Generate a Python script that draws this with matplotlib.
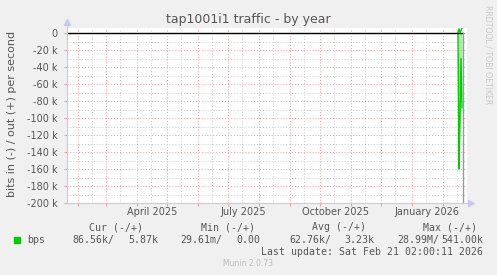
import datetime as dt
import matplotlib
matplotlib.use("Agg")
import matplotlib.pyplot as plt
import matplotlib.dates as mdates
from matplotlib.ticker import MultipleLocator, FuncFormatter

# time range shown (400 days, as in munin "by year")
x_start = dt.datetime(2025, 1, 21)
x_end = dt.datetime(2026, 2, 25)
now = dt.datetime(2026, 2, 21, 2, 0, 11)

# the only non-zero days of traffic
days = [dt.datetime(2026, 2, 16), dt.datetime(2026, 2, 17), dt.datetime(2026, 2, 18),
        dt.datetime(2026, 2, 19), dt.datetime(2026, 2, 20)]
bits_in = [0, 160000, 100000, 30000, 88000]
bits_out = [0, 5000, 800, 3000, 5870]

label_months = [dt.datetime(2025, 4, 16), dt.datetime(2025, 7, 16),
                dt.datetime(2025, 10, 16), dt.datetime(2026, 1, 16)]

legend_head = ["Cur (-/+)", "Min (-/+)", "Avg (-/+)", "Max (-/+)"]
legend_in = ["86.56k/", "29.61m/", "62.76k/", "28.99M/"]
legend_out = ["5.87k", "0.00", "3.23k", "541.00k"]

W, H = 497, 275
fig = plt.figure(figsize=(W / 100, H / 100), dpi=100, facecolor="#f0f0f0")


def px(x, y):
    return x / W, 1 - y / H


ax = fig.add_axes([67 / W, 1 - 203 / H, 400 / W, 175 / H])
ax.set_facecolor("white")
ax.set_xlim(x_start, x_end)
ax.set_ylim(-200000, 6000)

# grid
red = (1.0, 0.6, 0.6)
grey = (0.8, 0.8, 0.8)
ax.yaxis.set_major_locator(MultipleLocator(20000))
ax.yaxis.set_minor_locator(MultipleLocator(10000))
ax.xaxis.set_major_locator(mdates.MonthLocator(bymonthday=1))
ax.xaxis.set_minor_locator(mdates.MonthLocator(bymonthday=15))
ax.grid(which="minor", color=grey, linestyle=(0, (1, 2)), linewidth=0.7)
ax.grid(which="major", color=red, linestyle=(0, (1, 2)), linewidth=0.7)
ax.set_axisbelow(True)


def kfmt(v, pos):
    if v == 0:
        return "0"
    return "%d k" % round(v / 1000)


ax.yaxis.set_major_formatter(FuncFormatter(kfmt))
ax.xaxis.set_major_formatter(FuncFormatter(lambda v, p: ""))
ax.tick_params(axis="y", which="major", labelsize=7, labelcolor="#555555",
               length=2, color=red, pad=5)
ax.tick_params(axis="y", which="minor", length=0)
ax.tick_params(axis="x", which="major", length=2, color=red)
ax.tick_params(axis="x", which="minor", length=0)

for side in ["top", "right"]:
    ax.spines[side].set_visible(False)
for side in ["left", "bottom"]:
    ax.spines[side].set_color("#c8c8f0")
ax.spines["left"].set_bounds(-200000, 9000)
ax.plot([0], [1.035], marker="^", color="#c8c8f0", markersize=4,
        transform=ax.transAxes, clip_on=False)
ax.plot([1.01], [0], marker=">", color="#c8c8f0", markersize=4,
        transform=ax.transAxes, clip_on=False)

# month labels
for d in label_months:
    ax.text(d, -0.05, d.strftime("%B %Y"), transform=ax.get_xaxis_transform(),
            ha="center", va="center", fontsize=7, color="#555555")

# data
neg_in = [-v for v in bits_in]
ax.fill_between(days, neg_in, 0, color="#00cc00", alpha=0.35, linewidth=0)
ax.plot(days, neg_in, color="#00cc00", linewidth=1)
ax.plot(days, bits_out, color="#00cc00", linewidth=1)
ax.plot([x_start, now], [0, 0], color="black", linewidth=1)
ax.plot([now, now], [-200000, 0], color="#999999", linewidth=1)

# texts
fig.text(*px(248, 19), "tap1001i1 traffic - by year", ha="center", va="center",
         fontsize=9, color="#555555")
fig.text(*px(12, 114), "bits in (-) / out (+) per second", rotation=90,
         ha="center", va="center", fontsize=8, color="#555555")
fig.text(*px(488, 5), "RRDTOOL / TOBI OETIKER", rotation=270, ha="center",
         va="top", fontsize=5.6, color="#c8c8c8")

mono = dict(family="DejaVu Sans Mono", fontsize=7.1, color="#555555", va="center")
head_x = [89, 201, 312, 423]
in_x = [72, 180, 289, 397]
out_x = [158, 260, 374, 483]
for hx, h in zip(head_x, legend_head):
    fig.text(*px(hx, 227), h, ha="left", **mono)
for ix, v in zip(in_x, legend_in):
    fig.text(*px(ix, 240), v, ha="left", **mono)
for ox, v in zip(out_x, legend_out):
    fig.text(*px(ox, 240), v, ha="right", **mono)
fig.text(*px(27, 240), "bps", ha="left", **mono)
fig.patches.append(plt.Rectangle(px(14, 243), 6 / W, 6 / H, color="#00cc00",
                                 transform=fig.transFigure, figure=fig))
fig.text(*px(483, 252), "Last update: Sat Feb 21 02:00:11 2026", ha="right", **mono)
fig.text(*px(248, 264), "Munin 2.0.73", ha="center", va="center",
         fontsize=5.5, color="#bbbbbb")

fig.savefig("out.png", dpi=100, facecolor=fig.get_facecolor())
